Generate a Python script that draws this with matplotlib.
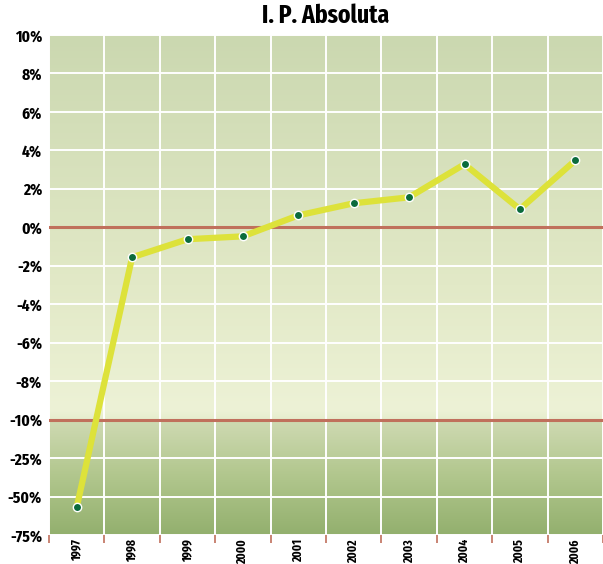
import numpy as np
import matplotlib
matplotlib.use("Agg")
import matplotlib.pyplot as plt
from matplotlib.colors import LinearSegmentedColormap

years = ["1997", "1998", "1999", "2000", "2001", "2002", "2003", "2004", "2005", "2006"]
values = [-57.0, -1.56, -0.62, -0.47, 0.62, 1.25, 1.56, 3.28, 0.94, 3.48]
ytick_vals = [-75, -50, -25, -10, -8, -6, -4, -2, 0, 2, 4, 6, 8, 10]
ytick_labels = ["-75%", "-50%", "-25%", "-10%", "-8%", "-6%", "-4%", "-2%",
                "0%", "2%", "4%", "6%", "8%", "10%"]
ref_lines = [0, -10]
title = "I. P. Absoluta"

idx = np.arange(len(ytick_vals), dtype=float)
tv = np.array(ytick_vals, dtype=float)

def fwd(v):
    return np.interp(v, tv, idx, left=-1e9, right=1e9)

def inv(u):
    return np.interp(u, idx, tv)

plt.rcParams['font.family'] = ['Fira Sans Extra Condensed', 'Cabin Condensed', 'PT Sans Narrow',
                               'Roboto Condensed', 'DejaVu Sans']

fig = plt.figure(figsize=(6.03, 5.64), dpi=100)
ax = fig.add_axes([49/603, 1 - 535/564, 1 - 49/603, 500/564])
ax.set_yscale('function', functions=(fwd, inv))
ax.set_ylim(-75, 10)
ax.set_xlim(-0.5, len(years) - 0.5)

cmap = LinearSegmentedColormap.from_list("bg", [
    (0.0, "#93b06e"),
    (0.12, "#b2c78e"),
    (0.23, "#cfdab3"),
    (0.2305, "#e6edcd"),
    (0.25, "#edf2d6"),
    (0.5, "#e2e9c7"),
    (1.0, "#cbd8b0"),
])
grad = np.linspace(0, 1, 256).reshape(-1, 1)
ax.imshow(grad, aspect='auto', cmap=cmap, origin='lower',
          extent=(0, 1, 0, 1), transform=ax.transAxes, zorder=0)

for v in ytick_vals:
    ax.axhline(v, color='white', lw=1.4, zorder=1)
for i in range(len(years) + 1):
    ax.axvline(i - 0.5, color='white', lw=1.4, zorder=1)
for v in ref_lines:
    ax.axhline(v, color='#c0705c', lw=2.2, zorder=2)

x = np.arange(len(years))
ax.plot(x, values, color='#dde23a', lw=4.5, zorder=3)
ax.scatter(x, values, s=36, color='#0b6b3c', edgecolor='white', linewidth=1.0, zorder=4)

ax.set_yticks(ytick_vals)
ax.set_yticklabels(ytick_labels, fontsize=12, fontweight='bold')
ax.yaxis.set_minor_locator(matplotlib.ticker.NullLocator())
ax.tick_params(axis='y', length=0, pad=5)

ax.set_xticks(np.arange(len(years) + 1) - 0.5, minor=False)
ax.set_xticklabels([])
ax.tick_params(axis='x', which='major', length=6, color='#c0705c', width=1.2)
ax.set_xticks(x, minor=True)
ax.set_xticklabels(years, minor=True, rotation=90, fontsize=9, fontweight='bold')
ax.tick_params(axis='x', which='minor', length=0, pad=3)

for s in ax.spines.values():
    s.set_visible(False)

fig.text(0.5 + 24/603, 1 - 16/564, title, ha='center', va='center',
         fontsize=18.5, fontweight='bold')

fig.savefig("out.png", dpi=100)
